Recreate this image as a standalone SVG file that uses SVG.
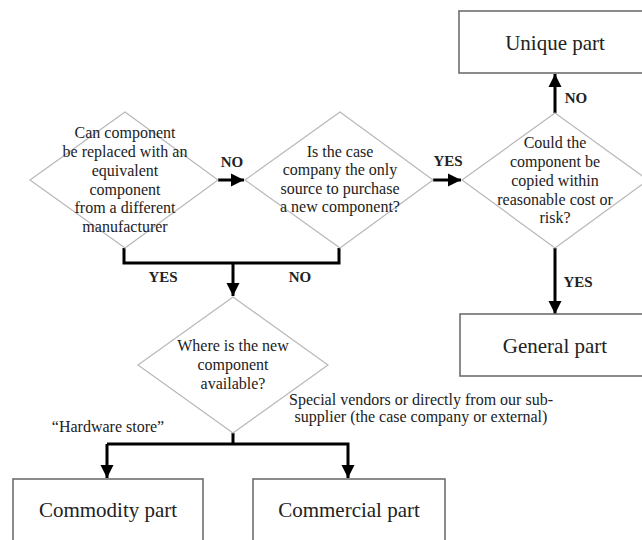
<svg xmlns="http://www.w3.org/2000/svg" width="642" height="540" viewBox="0 0 642 540">
  <defs>
    <marker id="arrow" viewBox="0 0 10 10" refX="10" refY="5" markerWidth="4.4" markerHeight="4.4" orient="auto" markerUnits="strokeWidth">
      <path d="M0,0 L10,5 L0,10 Z" fill="#000"/>
    </marker>
    <style>
      .diamond { fill: #fff; stroke: #b8b8b8; stroke-width: 1.2; }
      .box { fill: #fff; stroke: #6e6e6e; stroke-width: 1.6; }
      .q { font-family: "Liberation Serif", "Times New Roman", serif; font-size: 16px; fill: #222; text-anchor: middle; }
      .title { font-family: "Liberation Serif", "Times New Roman", serif; font-size: 21px; fill: #222; text-anchor: middle; }
      .lbl { font-family: "Liberation Serif", "Times New Roman", serif; font-size: 15px; font-weight: bold; fill: #222; text-anchor: middle; }
      .note { font-family: "Liberation Serif", "Times New Roman", serif; font-size: 16px; fill: #222; text-anchor: middle; }
      .wire { fill: none; stroke: #000; stroke-width: 3; }
    </style>
  </defs>
  <rect width="642" height="540" fill="#fff"/>

  <!-- connectors -->
  <g id="connectors">
    <path class="wire" d="M218,180 H244" marker-end="url(#arrow)"/>
    <path class="wire" d="M433,180 H461" marker-end="url(#arrow)"/>
    <path class="wire" d="M555,113 V74" marker-end="url(#arrow)"/>
    <path class="wire" d="M555,248 V314" marker-end="url(#arrow)"/>
    <path class="wire" d="M124,248 V263 H339 V248"/>
    <path class="wire" d="M233,263 V296" marker-end="url(#arrow)"/>
    <path class="wire" d="M233,433 V444"/>
    <path class="wire" d="M107,444 H348 V478" marker-end="url(#arrow)"/>
    <path class="wire" d="M107,444 V478" marker-end="url(#arrow)"/>
    <text class="lbl" x="232" y="167">NO</text>
    <text class="lbl" x="448" y="166">YES</text>
    <text class="lbl" x="576" y="103">NO</text>
    <text class="lbl" x="578" y="287">YES</text>
    <text class="lbl" x="163" y="282">YES</text>
    <text class="lbl" x="300" y="282">NO</text>
    <text class="note" x="108" y="432">“Hardware store”</text>
    <text class="note" x="421" y="405">Special vendors or directly from our sub-</text>
    <text class="note" x="421" y="422">supplier (the case company or external)</text>
  </g>

  <!-- decision: replaceable component -->
  <g id="q-replace">
    <polygon class="diamond" points="125,112 218,180 125,248 30,180"/>
    <text class="q" x="125" y="138">Can component</text>
    <text class="q" x="125" y="157">be replaced with an</text>
    <text class="q" x="125" y="176">equivalent</text>
    <text class="q" x="125" y="195">component</text>
    <text class="q" x="125" y="213">from a different</text>
    <text class="q" x="125" y="232">manufacturer</text>
  </g>

  <!-- decision: only source -->
  <g id="q-source">
    <polygon class="diamond" points="340,112 433,180 340,248 245,180"/>
    <text class="q" x="340" y="157">Is the case</text>
    <text class="q" x="340" y="175">company the only</text>
    <text class="q" x="340" y="194">source to purchase</text>
    <text class="q" x="340" y="212">a new component?</text>
  </g>

  <!-- decision: can be copied -->
  <g id="q-copy">
    <polygon class="diamond" points="555,113 648,180 555,248 462,180"/>
    <text class="q" x="555" y="148">Could the</text>
    <text class="q" x="555" y="167">component be</text>
    <text class="q" x="555" y="186">copied within</text>
    <text class="q" x="555" y="205">reasonable cost or</text>
    <text class="q" x="555" y="223">risk?</text>
  </g>

  <!-- decision: availability -->
  <g id="q-available">
    <polygon class="diamond" points="233,297 328,365 233,433 138,365"/>
    <text class="q" x="233" y="351">Where is the new</text>
    <text class="q" x="233" y="370">component</text>
    <text class="q" x="233" y="389">available?</text>
  </g>

  <g id="unique-part">
    <rect class="box" x="459" y="11" width="190" height="62"/>
    <text class="title" x="555" y="50">Unique part</text>
  </g>

  <g id="general-part">
    <rect class="box" x="460" y="314" width="190" height="62"/>
    <text class="title" x="555" y="353">General part</text>
  </g>

  <g id="commodity-part">
    <rect class="box" x="13" y="479" width="190" height="70"/>
    <text class="title" x="108" y="517">Commodity part</text>
  </g>

  <g id="commercial-part">
    <rect class="box" x="253" y="479" width="192" height="70"/>
    <text class="title" x="349" y="517">Commercial part</text>
  </g>
</svg>
